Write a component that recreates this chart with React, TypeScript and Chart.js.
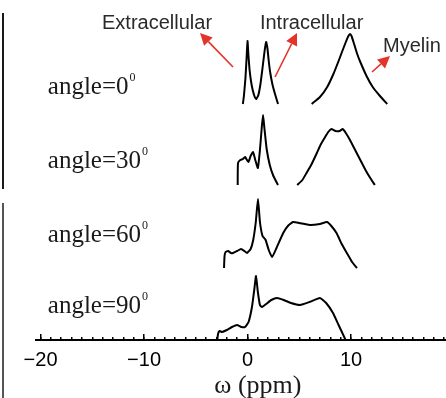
import { useEffect, useRef } from "react";
import { Chart, registerables } from "chart.js";
Chart.register(...registerables);

// ---- axis ----
const X_MIN = -20.44;
const X_MAX = 19.18;
const Y_MIN = 0;
const Y_MAX = 34;
const MAJOR_TICKS = [-20, -10, 0, 10];
const TICK_LABELS = ["\u221220", "\u221210", "0", "10"];
const X_TITLE = "\u03c9 (ppm)";

// ---- spectra (ω in ppm, intensity above each trace's baseline) ----
const ANGLES = ["0", "30", "60", "90"];
const OFFSETS = [23.6, 15.5, 7.2, 0];

const A0_WATER_X = [-0.45, -0.35, -0.2, -0.08, 0.0, 0.08, 0.2, 0.35, 0.5, 0.7, 0.85, 1.05, 1.25, 1.45, 1.65, 1.8, 1.92, 2.05, 2.2, 2.4, 2.6, 2.8, 2.95];
const A0_WATER_Y = [0, 0.8, 2.6, 4.8, 6.3, 5.0, 3.4, 2.2, 1.4, 0.7, 0.5, 0.9, 2.0, 3.6, 5.3, 6.2, 5.6, 4.3, 3.1, 2.0, 1.2, 0.5, 0];
const A0_MYELIN_X = [6.2, 7.0, 7.7, 8.3, 8.8, 9.2, 9.5, 9.75, 9.9, 10.05, 10.3, 10.6, 10.9, 11.5, 12.1, 12.8, 13.5];
const A0_MYELIN_Y = [0, 0.7, 1.7, 3.0, 4.3, 5.4, 6.2, 6.8, 7.0, 6.8, 6.0, 5.0, 4.2, 2.8, 1.7, 0.8, 0];

const A30_WATER_X = [-0.95, -0.92, -0.7, -0.45, -0.24, 0.08, 0.3, 0.53, 0.75, 1.0, 1.2, 1.38, 1.5, 1.62, 1.85, 2.15, 2.5, 2.95];
const A30_WATER_Y = [0, 2.2, 2.5, 2.6, 2.8, 2.3, 2.9, 3.3, 2.5, 1.7, 3.5, 5.8, 7.0, 5.8, 3.6, 2.0, 0.9, 0];
const A30_MYELIN_X = [4.8, 5.3, 5.7, 6.2, 6.7, 7.1, 7.5, 7.8, 8.1, 8.5, 8.9, 9.2, 9.5, 9.9, 10.4, 10.9, 11.4, 11.8, 12.3];
const A30_MYELIN_Y = [0, 0.5, 1.2, 2.1, 3.2, 4.1, 4.8, 5.3, 5.6, 5.4, 5.4, 5.6, 5.2, 4.5, 3.5, 2.5, 1.5, 0.8, 0];

const A60_X = [-2.27, -2.22, -2.12, -1.88, -1.6, -1.4, -1.0, -0.63, -0.3, -0.05, 0.3, 0.55, 0.8, 1.01, 1.2, 1.45, 1.75, 2.05, 2.37, 2.8, 3.45, 3.9, 4.4, 5.0, 6.0, 7.0, 7.68, 8.1, 8.6, 9.1, 9.6, 10.1, 10.58];
const A60_Y = [0, 1.2, 1.6, 1.7, 1.5, 1.5, 1.7, 1.9, 1.7, 1.5, 1.9, 2.8, 4.6, 6.9, 4.6, 3.2, 2.8, 1.8, 1.1, 2.0, 3.5, 4.2, 4.6, 4.5, 4.3, 4.4, 4.6, 4.2, 3.5, 2.4, 1.5, 0.6, 0];

const A90_X = [-2.95, -2.85, -2.7, -2.46, -2.0, -1.5, -1.01, -0.6, -0.24, 0.1, 0.43, 0.65, 0.82, 1.0, 1.2, 1.4, 1.8, 2.3, 2.85, 3.5, 4.2, 5.07, 6.0, 7.0, 7.6, 8.26, 8.8, 9.3, 9.6];
const A90_Y = [-0.3, 0.6, 0.9, 0.8, 1.0, 1.3, 1.5, 1.3, 1.3, 1.8, 3.3, 5.0, 6.4, 4.8, 3.5, 3.3, 3.6, 4.0, 4.2, 4.0, 3.7, 3.5, 3.8, 4.2, 3.7, 2.7, 1.5, 0.4, -0.3];

const SEGMENTS = [
  { angle: 0, xs: A0_WATER_X, ys: A0_WATER_Y },
  { angle: 0, xs: A0_MYELIN_X, ys: A0_MYELIN_Y },
  { angle: 1, xs: A30_WATER_X, ys: A30_WATER_Y },
  { angle: 1, xs: A30_MYELIN_X, ys: A30_MYELIN_Y },
  { angle: 2, xs: A60_X, ys: A60_Y },
  { angle: 3, xs: A90_X, ys: A90_Y },
];

// ---- annotations ----
const LABEL_POS = { x: -19.3, ys: [24.6, 17.2, 9.8, 2.7] };
const COMPARTMENTS = ["Extracellular", "Intracellular", "Myelin"];
const COMPARTMENT_POS = [
  { x: -14.06, y: 31.1 },
  { x: 1.2, y: 31.1 },
  { x: 13.1, y: 28.8 },
];
const ARROWS = [
  { x1: -1.4, y1: 27.3, x2: -4.59, y2: 30.7 },
  { x1: 2.66, y1: 26.3, x2: 4.78, y2: 30.7 },
  { x1: 12.03, y1: 26.8, x2: 13.77, y2: 28.4 },
];
const TITLE_POS = { x: 1.0, y: -5.25 };

const annotationPlugin = {
  id: "annotations",
  afterDraw(chart: any) {
    const { ctx } = chart;
    const xs = chart.scales.x;
    const ys = chart.scales.y;
    const px = (v: number) => xs.getPixelForValue(v);
    const py = (v: number) => ys.getPixelForValue(v);
    ctx.save();
    ANGLES.forEach((a, i) => {
      const x = px(LABEL_POS.x);
      const y = py(LABEL_POS.ys[i]);
      ctx.fillStyle = "#1a1a1a";
      ctx.textBaseline = "alphabetic";
      ctx.textAlign = "left";
      ctx.font = "25px 'Liberation Serif', serif";
      const main = "angle=" + a;
      ctx.fillText(main, x, y);
      const w = ctx.measureText(main).width;
      ctx.font = "12px 'Liberation Serif', serif";
      ctx.fillText("0", x + w + 1, y - 13);
    });
    ctx.font = "20px 'Liberation Sans', Arial, sans-serif";
    ctx.fillStyle = "#2a2a2a";
    ctx.textAlign = "left";
    COMPARTMENTS.forEach((t, i) => {
      ctx.fillText(t, px(COMPARTMENT_POS[i].x), py(COMPARTMENT_POS[i].y));
    });
    ctx.strokeStyle = "#e3342b";
    ctx.fillStyle = "#e3342b";
    ctx.lineWidth = 1.6;
    ARROWS.forEach((a) => {
      const x1 = px(a.x1), y1 = py(a.y1), x2 = px(a.x2), y2 = py(a.y2);
      const ang = Math.atan2(y2 - y1, x2 - x1);
      const hl = 12, hw = 6;
      const bx = x2 - hl * Math.cos(ang), by = y2 - hl * Math.sin(ang);
      ctx.beginPath();
      ctx.moveTo(x1, y1);
      ctx.lineTo(bx, by);
      ctx.stroke();
      ctx.beginPath();
      ctx.moveTo(x2, y2);
      ctx.lineTo(bx + hw * Math.sin(ang), by - hw * Math.cos(ang));
      ctx.lineTo(bx - hw * Math.sin(ang), by + hw * Math.cos(ang));
      ctx.closePath();
      ctx.fill();
    });
    ctx.fillStyle = "#1a1a1a";
    ctx.font = "26px 'Liberation Serif', serif";
    ctx.textAlign = "center";
    ctx.fillText(X_TITLE, px(TITLE_POS.x), py(TITLE_POS.y));
    ctx.restore();
  },
};

export default function App() {
  const ref = useRef<HTMLCanvasElement | null>(null);
  useEffect(() => {
    if (!ref.current) return;
    const datasets = SEGMENTS.map((s) => ({
      data: s.xs.map((x, i) => ({ x, y: OFFSETS[s.angle] + s.ys[i] })),
      borderColor: "#000",
      borderWidth: 2,
      borderJoinStyle: "round" as const,
      pointRadius: 0,
      showLine: true,
      fill: false,
      tension: 0.15,
      xAxisID: "x",
      yAxisID: "y",
    }));
    const chart = new Chart(ref.current, {
      type: "scatter",
      data: { datasets },
      options: {
        animation: false,
        responsive: false,
        devicePixelRatio: 1,
        layout: { padding: { left: 36, right: 0, top: 0, bottom: 0 } },
        plugins: { legend: { display: false }, tooltip: { enabled: false } },
        scales: {
          xMinor: {
            type: "linear",
            position: "bottom",
            weight: 0,
            min: X_MIN,
            max: X_MAX,
            ticks: { display: false, stepSize: 1, includeBounds: false },
            afterBuildTicks: (s: any) => {
              s.ticks = s.ticks.filter((t: any) => Number.isInteger(t.value));
            },
            afterFit: (s: any) => {
              s.height = 0;
            },
            border: { display: false },
            grid: { drawOnChartArea: false, drawTicks: true, tickLength: -3, color: "#000", lineWidth: 1.5 },
          },
          x: {
            type: "linear",
            position: "bottom",
            weight: 1,
            min: X_MIN,
            max: X_MAX,
            afterBuildTicks: (s: any) => {
              s.ticks = MAJOR_TICKS.map((v) => ({ value: v }));
            },
            afterFit: (s: any) => {
              s.height = 58;
            },
            ticks: {
              autoSkip: false,
              maxRotation: 0,
              padding: 14,
              color: "#000",
              font: { family: "'Liberation Sans', Arial, sans-serif", size: 20 },
              callback: (v: any) => TICK_LABELS[MAJOR_TICKS.indexOf(Number(v))] ?? "",
            },
            border: { display: true, color: "#000", width: 2 },
            grid: { drawOnChartArea: false, drawTicks: true, tickLength: -6, color: "#000", lineWidth: 1.5 },
          },
          y: { type: "linear", display: false, min: Y_MIN, max: Y_MAX },
        },
      },
      plugins: [annotationPlugin],
    });
    return () => chart.destroy();
  }, []);
  return (
    <div style={{ position: "fixed", left: 0, top: 0, width: 446, height: 398, background: "#fff" }}>
      <div style={{ position: "absolute", left: 2, top: 13, width: 2, height: 176, background: "#1a1a1a" }} />
      <div style={{ position: "absolute", left: 2, top: 203, width: 2, height: 195, background: "#555" }} />
      <canvas ref={ref} width={446} height={398} style={{ display: "block", width: 446, height: 398 }} />
    </div>
  );
}
